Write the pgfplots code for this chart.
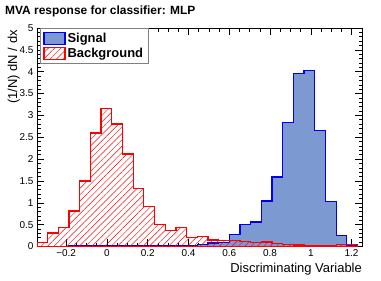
\documentclass[border=0pt]{standalone}
\usepackage{fontspec}
\setmainfont{Liberation Sans}
\usepackage{pgfplots}
\pgfplotsset{compat=1.18}
\usepackage{pgfplotstable}
\usetikzlibrary{patterns.meta}
\definecolor{sigfill}{HTML}{7D99D1}
\definecolor{sigline}{HTML}{0000EE}
\definecolor{bkgline}{HTML}{FF0000}

\pgfplotstableread{
x s b
-0.3430 0.000 0.09
-0.2906 0.000 0.31
-0.2382 0.005 0.43
-0.1858 0.010 0.81
-0.1334 0.020 1.50
-0.0810 0.015 2.60
-0.0286 0.020 3.15
0.0238 0.010 2.80
0.0762 0.010 2.12
0.1286 0.010 1.33
0.1810 0.015 0.91
0.2334 0.010 0.51
0.2858 0.020 0.36
0.3382 0.020 0.43
0.3906 0.030 0.20
0.4430 0.050 0.23
0.4954 0.080 0.15
0.5478 0.090 0.13
0.6002 0.270 0.13
0.6526 0.500 0.11
0.7050 0.560 0.09
0.7574 1.040 0.10
0.8098 1.590 0.07
0.8622 2.840 0.05
0.9146 3.960 0.035
0.9670 4.030 0.02
1.0194 2.650 0.02
1.0718 1.030 0.025
1.1242 0.250 0.04
1.1766 0.030 0.04
1.2290 0.030 0.04
}\histdata

\begin{document}
\begin{tikzpicture}
\path[use as bounding box] (0,0) rectangle (381bp,281bp);
\begin{axis}[
  at={(37bp,34.5bp)}, anchor=south west,
  scale only axis, width=325bp, height=218.5bp,
  xmin=-0.343, xmax=1.251, ymin=0, ymax=5,
  xtick={-0.2,0,0.2,0.4,0.6,0.8,1,1.2},
  xticklabels={−0.2,0,0.2,0.4,0.6,0.8,1,1.2},
  ytick={0,0.5,1,1.5,2,2.5,3,3.5,4,4.5,5},
  yticklabels={0,0.5,1,1.5,2,2.5,3,3.5,4,4.5,5},
  minor x tick num=3, minor y tick num=4,
  tick align=inside,
  major tick length=7bp, minor tick length=3.5bp,
  tick style={black, line width=0.6bp},
  axis line style={line width=0.8bp},
  ticklabel style={font=\fontsize{10}{12}\selectfont},
  legend style={at={(axis description cs:0.009,1)}, anchor=north west,
    draw=black!50, line width=0.6bp, font=\bfseries\fontsize{13}{14}\selectfont,
    inner xsep=3bp, inner ysep=2.5bp, row sep=0.5bp},
  legend cell align=left,
  legend image code/.code={\draw[#1] (0bp,-6bp) rectangle (21bp,6bp);},
]
\addplot[const plot, fill=sigfill, draw=sigline, line width=1.3bp] table[x=x,y=s]{\histdata} \closedcycle;
\addlegendentry{Signal}
\addplot[const plot, pattern={Lines[angle=45,distance=4.5bp,line width=0.45bp]}, pattern color=bkgline, draw=bkgline, line width=1.3bp] table[x=x,y=b]{\histdata} \closedcycle;
\addlegendentry{Background}
\end{axis}
\node[anchor=base west, font=\bfseries\fontsize{12}{14}\selectfont, inner sep=0] at (5bp,266bp) {MVA response for classifier: MLP};
\node[rotate=90, anchor=base east, inner sep=0, font=\fontsize{13}{15}\selectfont] at (17bp,251bp) {(1/N) dN / dx};
\node[anchor=base east, inner sep=0, font=\fontsize{13}{15}\selectfont] at (362bp,8.7bp) {Discriminating Variable};
\end{tikzpicture}
\end{document}
